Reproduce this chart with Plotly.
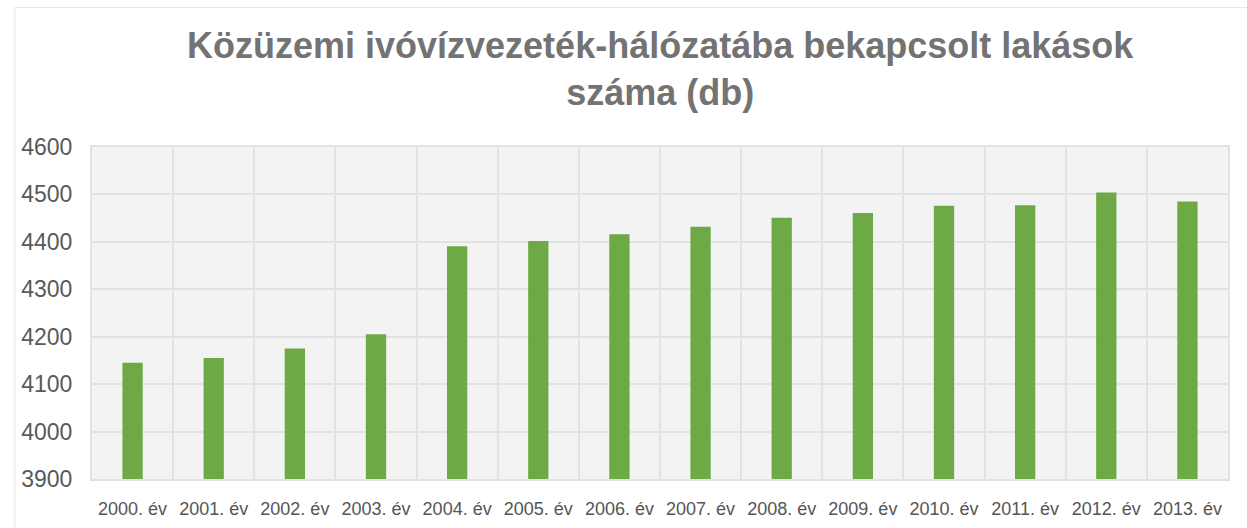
import plotly.graph_objects as go

# Years and number of dwellings connected to the public drinking-water network
years = ["2000. év", "2001. év", "2002. év", "2003. év", "2004. év", "2005. év", "2006. év",
         "2007. év", "2008. év", "2009. év", "2010. év", "2011. év", "2012. év", "2013. év"]
dwellings = [4145, 4155, 4175, 4205, 4391, 4402, 4416, 4432, 4451, 4461, 4476, 4477, 4504, 4485]
y_ticks = [3900, 4000, 4100, 4200, 4300, 4400, 4500, 4600]
title_text = "<b>Közüzemi ivóvízvezeték-hálózatába bekapcsolt lakások<br>száma (db)</b>"

fig = go.Figure(
    go.Bar(
        x=years,
        y=dwellings,
        marker=dict(color="#6DAA45", line=dict(width=0)),
        width=0.25,
        hoverinfo="x+y",
    )
)

fig.update_layout(
    width=1247,
    height=528,
    margin=dict(l=92, r=19, t=147, b=49),
    paper_bgcolor="white",
    plot_bgcolor="#f3f3f3",
    showlegend=False,
    font=dict(family="Liberation Sans, Arial, sans-serif", color="#595959"),
)

# Two-line chart title
fig.add_annotation(
    text=title_text,
    xref="paper", yref="paper",
    x=0.5, y=1.234,
    xanchor="center", yanchor="middle",
    showarrow=False,
    align="center",
    font=dict(family="Liberation Sans, Arial, sans-serif", size=36, color="#737373"),
)

fig.update_xaxes(
    type="category",
    tickson="boundaries",
    showgrid=True,
    gridcolor="#e2e2e2",
    gridwidth=2,
    ticks="",
    tickangle=0,
    automargin=False,
    ticklabelstandoff=12,
    tickfont=dict(size=18, color="#555555"),
    showline=True,
    linecolor="#e2e2e2",
    linewidth=2,
    mirror=True,
    fixedrange=True,
)

fig.update_yaxes(
    range=[3900, 4600],
    tickvals=y_ticks,
    showgrid=True,
    gridcolor="#e2e2e2",
    gridwidth=2,
    zeroline=False,
    ticks="",
    automargin=False,
    ticklabelstandoff=13,
    tickfont=dict(size=23, color="#595959"),
    showline=True,
    linecolor="#e2e2e2",
    linewidth=2,
    mirror=True,
    fixedrange=True,
)

# Thin frame around the whole chart area
fig.add_shape(
    type="rect", xref="paper", yref="paper",
    x0=-0.068, x1=1.02, y0=-0.2, y1=1.42,
    line=dict(color="#e8e8e8", width=1),
    layer="below",
)

fig.write_html("out.html")
